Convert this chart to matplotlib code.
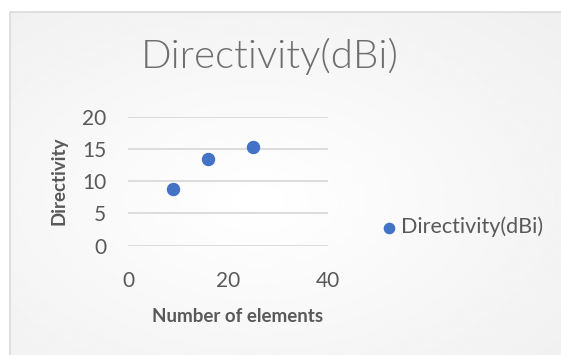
import numpy as np
import matplotlib
matplotlib.use("Agg")
import matplotlib.pyplot as plt
from matplotlib.patches import Rectangle

# antenna array results
elements = [9, 16, 25]
directivity = [8.75, 13.5, 15.3]
series_name = "Directivity(dBi)"
x_ticks = [0, 20, 40]
y_ticks = [0, 5, 10, 15, 20]

plt.rcParams["font.family"] = ["Lato", "DejaVu Sans"]
text_grey = "#595959"

fig = plt.figure(figsize=(5.61, 3.55), dpi=100)

# soft radial background inside the chart frame
bg = fig.add_axes([10 / 561, 0, 1 - 10 / 561, 1 - 12 / 355])
yy, xx = np.mgrid[0:1:200j, 0:1:300j]
r = np.sqrt((xx - 0.45) ** 2 + (yy - 0.55) ** 2)
shade = 1.0 - 0.06 * np.clip(r / 0.75, 0, 1)
bg.imshow(shade, cmap="gray", vmin=0, vmax=1, aspect="auto", extent=[0, 1, 0, 1])
bg.set_xlim(0, 1)
bg.set_ylim(0, 1)
bg.axis("off")
fig.patches.append(Rectangle((10 / 561, -0.01), 1.0, 1 - 12 / 355 + 0.01,
                             transform=fig.transFigure, fill=False,
                             edgecolor="#d9d9d9", linewidth=1.2))

ax = fig.add_axes([128.3 / 561, 109.3 / 355, 200 / 561, 129 / 355])
ax.patch.set_alpha(0)
ax.scatter(elements, directivity, s=75, color="#4472C4", zorder=3, label=series_name)
ax.set_xlim(0, 40)
ax.set_ylim(0, 20)
ax.set_xticks(x_ticks)
ax.set_yticks(y_ticks)
ax.yaxis.grid(True, color="#d9d9d9", linewidth=1.3)
ax.set_axisbelow(True)
for s in ax.spines.values():
    s.set_visible(False)
ax.tick_params(length=0, labelsize=15, labelcolor=text_grey)
ax.tick_params(axis="x", pad=18)
ax.tick_params(axis="y", pad=16)

fig.text(59 / 561, 1 - 181 / 355, "Directivity", rotation=90, ha="center", va="center",
         fontsize=13.5, fontweight="bold", color=text_grey)
fig.text(238 / 561, 1 - 316 / 355, "Number of elements", ha="center", va="center",
         fontsize=13.5, fontweight="bold", color=text_grey)
fig.text(270 / 561, 1 - 56 / 355, "Directivity(dBi)", ha="center", va="center",
         fontsize=29, fontweight=300, color="#6e6e6e")

ax.legend(loc="center left", bbox_to_anchor=(377 / 561, 1 - 227 / 355),
          bbox_transform=fig.transFigure, frameon=False, fontsize=15.5,
          labelcolor=text_grey, handletextpad=0.0, markerscale=0.85,
          borderpad=0, borderaxespad=0, handlelength=1.1)

fig.savefig("out.png", dpi=100)
